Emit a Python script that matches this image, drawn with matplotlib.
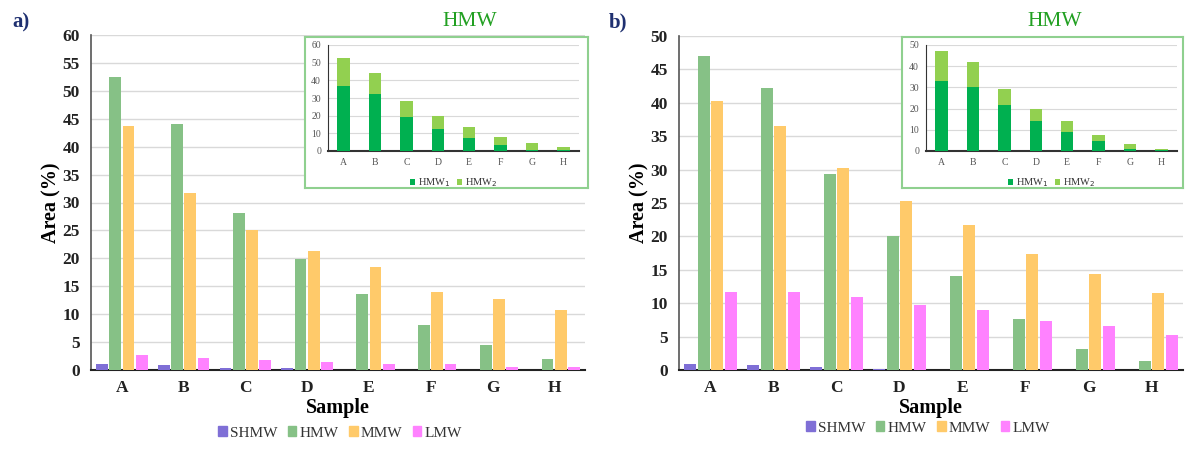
import numpy as np
import matplotlib.pyplot as plt
from matplotlib.patches import Patch

samples = ["A", "B", "C", "D", "E", "F", "G", "H"]
series_names = ["SHMW", "HMW", "MMW", "LMW"]
series_colors = ["#7f6fd6", "#86c186", "#ffca6a", "#ff82ff"]

# panel a) values (Area %)
a_shmw = [1.0, 0.9, 0.4, 0.4, 0.0, 0.0, 0.0, 0.0]
a_hmw = [52.5, 44.1, 28.2, 19.9, 13.6, 8.0, 4.4, 2.0]
a_mmw = [43.7, 31.7, 25.0, 21.4, 18.5, 14.0, 12.7, 10.7]
a_lmw = [2.6, 2.2, 1.8, 1.5, 1.1, 1.0, 0.6, 0.5]
a_hmw1 = [37.0, 32.0, 19.0, 12.5, 7.5, 3.2, 0.8, 0.3]
a_hmw2 = [15.8, 12.3, 9.3, 7.3, 6.3, 4.8, 3.7, 1.8]

# panel b) values (Area %)
b_shmw = [0.9, 0.7, 0.4, 0.1, 0.0, 0.0, 0.0, 0.0]
b_hmw = [47.0, 42.2, 29.4, 20.1, 14.0, 7.7, 3.1, 1.4]
b_mmw = [40.2, 36.5, 30.2, 25.3, 21.7, 17.3, 14.3, 11.6]
b_lmw = [11.7, 11.7, 10.9, 9.8, 9.0, 7.3, 6.6, 5.2]
b_hmw1 = [33.0, 30.0, 21.5, 14.0, 9.0, 4.5, 0.8, 0.3]
b_hmw2 = [14.0, 12.2, 7.9, 6.0, 5.0, 3.2, 2.5, 0.7]

SERIF = ["Liberation Serif", "DejaVu Serif"]
plt.rcParams["font.family"] = SERIF

W, H = 1187, 450
fig = plt.figure(figsize=(11.87, 4.5), dpi=100)


def fx(px):
    return px / W


def fy(px):
    return 1 - px / H


def main_panel(left, right, top_px, ymax, series, letter, letter_x, legend_x, legend_y):
    ax = fig.add_axes([fx(left), fy(370), fx(right - left), fy(top_px) - fy(370)])
    x = np.arange(len(samples))
    pitch, width = 0.215, 0.19
    for i, (vals, col, name) in enumerate(zip(series, series_colors, series_names)):
        ax.bar(x + (i - 1.5) * pitch, vals, width, color=col, label=name, zorder=3)
    ax.set_xlim(-0.5, len(samples) - 0.5)
    ax.set_ylim(0, ymax)
    ax.set_yticks(np.arange(0, ymax + 1, 5))
    ax.set_xticks(x)
    ax.set_xticklabels(samples)
    for lab in ax.get_xticklabels() + ax.get_yticklabels():
        lab.set_fontweight("bold")
        lab.set_fontsize(12.5)
        lab.set_color("#222222")
    ax.tick_params(length=0, pad=7)
    ax.tick_params(axis="y", pad=8)
    ax.grid(axis="y", color="#d9d9d9", lw=1, zorder=0)
    for s in ["top", "right"]:
        ax.spines[s].set_visible(False)
    ax.spines["left"].set_color("#555555")
    ax.spines["left"].set_linewidth(1.2)
    ax.spines["bottom"].set_color("#222222")
    ax.spines["bottom"].set_linewidth(1.5)
    ax.set_xlabel("Sample", fontsize=14.5, fontweight="bold", labelpad=2)
    ax.set_ylabel("Area (%)", fontsize=14.5, fontweight="bold", labelpad=1)
    fig.text(fx(letter_x), fy(22), letter, fontsize=15, fontweight="bold",
             color="#1f3070", va="center")
    handles = [Patch(color=c, label=n) for c, n in zip(series_colors, series_names)]
    fig.legend(handles=handles, loc="center", ncol=4, frameon=False,
               bbox_to_anchor=(fx(legend_x), fy(legend_y)),
               fontsize=11, handlelength=0.55, handleheight=0.55,
               handletextpad=0.2, columnspacing=0.7, labelcolor="#333333")
    return ax


def inset_panel(box_left, box_right, ax_left, ax_right, ymax, hmw1, hmw2, title_x):
    frame = fig.add_axes([fx(box_left), fy(188), fx(box_right - box_left), fy(37) - fy(188)])
    frame.set_xticks([])
    frame.set_yticks([])
    frame.set_facecolor("white")
    for s in frame.spines.values():
        s.set_color("#8fd08f")
        s.set_linewidth(1.5)
    frame.set_zorder(5)

    ia = fig.add_axes([fx(ax_left), fy(151), fx(ax_right - ax_left), fy(45) - fy(151)])
    ia.set_zorder(6)
    ia.patch.set_alpha(0)
    x = np.arange(len(samples))
    ia.bar(x, hmw1, 0.4, color="#00b050", label="HMW$_1$", zorder=3)
    ia.bar(x, hmw2, 0.4, bottom=hmw1, color="#92d050", label="HMW$_2$", zorder=3)
    ia.set_xlim(-0.5, len(samples) - 0.5)
    ia.set_ylim(0, ymax)
    ia.set_yticks(np.arange(0, ymax + 1, 10))
    ia.set_xticks(x)
    ia.set_xticklabels(samples)
    ia.tick_params(length=0, labelsize=7, labelcolor="#555555", pad=5)
    ia.grid(axis="y", color="#d9d9d9", lw=0.8, zorder=0)
    for s in ["top", "right"]:
        ia.spines[s].set_visible(False)
    ia.spines["left"].set_color("#333333")
    ia.spines["bottom"].set_color("#333333")
    ia.spines["bottom"].set_linewidth(1.5)
    ia.legend(loc="center", ncol=2, frameon=False,
              bbox_to_anchor=(0.5, -0.3), fontsize=7.5,
              handlelength=0.5, handleheight=0.5, handletextpad=0.3,
              columnspacing=0.6, labelcolor="#333333")
    fig.text(fx(title_x), fy(22), "HMW", fontsize=15.5, color="#22a022",
             ha="center", va="center")


main_panel(91, 585, 35, 60, [a_shmw, a_hmw, a_mmw, a_lmw], "a)", 12, 340, 433)
inset_panel(305, 588, 328, 579, 60, a_hmw1, a_hmw2, 470)

main_panel(679, 1183, 36, 50, [b_shmw, b_hmw, b_mmw, b_lmw], "b)", 609, 928, 428)
inset_panel(902, 1183, 926, 1177, 50, b_hmw1, b_hmw2, 1055)

fig.savefig("out.png", dpi=100)
